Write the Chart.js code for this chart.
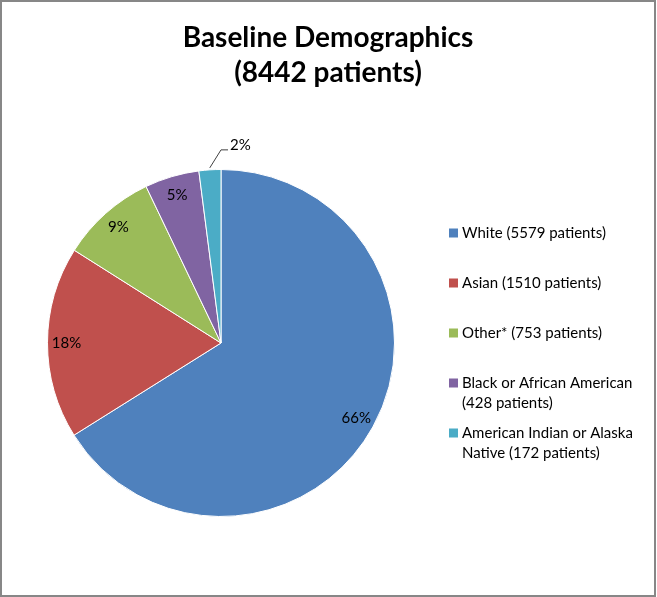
<!DOCTYPE html>
<html>
<head>
<meta charset="utf-8">
<title>Baseline Demographics</title>
<script src="https://cdn.jsdelivr.net/npm/chart.js@4.4.0/dist/chart.umd.min.js"></script>
<style>
  html, body { margin: 0; padding: 0; background: #fff; }
  #wrap { width: 657px; height: 597px; }
</style>
</head>
<body>
<div id="wrap"><canvas id="myChart" width="657" height="597"></canvas></div>
<script>
// Dados do gráfico
const titleLines = ["Baseline Demographics", "(8442 patients)"];
const groups = ["White", "Asian", "Other*", "Black or African American", "American Indian or Alaska Native"];
const patients = [5579, 1510, 753, 428, 172];
const colors = ["#4F81BD", "#C0504D", "#9BBB59", "#8064A2", "#4BACC6"];

const total = patients.reduce((a, b) => a + b, 0);
const FONT = "Lato, 'Open Sans', sans-serif";

// quebra o texto da legenda em linhas
function wrapText(ctx, text, maxWidth) {
  const words = text.split(" ");
  const lines = [];
  let line = "";
  words.forEach(function(w) {
    const test = line ? line + " " + w : w;
    if (ctx.measureText(test).width > maxWidth && line) {
      lines.push(line);
      line = w;
    } else {
      line = test;
    }
  });
  if (line) lines.push(line);
  return lines;
}

const decor = {
  id: "decor",
  afterDraw(chart) {
    const ctx = chart.ctx;
    ctx.save();

    // moldura
    ctx.strokeStyle = "#878787";
    ctx.lineWidth = 2;
    ctx.strokeRect(1, 1, 654, 595);

    // título
    ctx.fillStyle = "#000";
    ctx.textAlign = "center";
    ctx.textBaseline = "alphabetic";
    ctx.font = "bold 28px " + FONT;
    ctx.fillText(titleLines[0], 328, 47);
    ctx.fillText(titleLines[1], 328, 82);

    // rótulos de porcentagem
    const arcs = chart.getDatasetMeta(0).data;
    ctx.font = "15px " + FONT;
    ctx.textBaseline = "middle";
    arcs.forEach(function(arc, i) {
      const pct = Math.round(patients[i] / total * 100);
      const mid = (arc.startAngle + arc.endAngle) / 2;
      const r = arc.outerRadius;
      if (pct >= 3) {
        const lr = r - 19;
        ctx.textAlign = "center";
        ctx.fillText(pct + "%", arc.x + Math.cos(mid) * lr, arc.y + Math.sin(mid) * lr);
      } else {
        const ex = arc.x + Math.cos(mid) * (r + 2);
        const ey = arc.y + Math.sin(mid) * (r + 2);
        const kx = arc.x;
        const ky = ey - 18;
        ctx.strokeStyle = "#404040";
        ctx.lineWidth = 1;
        ctx.beginPath();
        ctx.moveTo(ex, ey);
        ctx.lineTo(kx, ky);
        ctx.lineTo(kx + 7, ky);
        ctx.stroke();
        ctx.textAlign = "left";
        ctx.fillText(pct + "%", kx + 9, ky - 5);
      }
    });

    // legenda
    ctx.font = "15px " + FONT;
    ctx.textAlign = "left";
    groups.forEach(function(g, i) {
      const y = 233 + i * 50;
      ctx.fillStyle = colors[i];
      ctx.fillRect(449, y - 4.5, 9, 9);
      ctx.fillStyle = "#000";
      const lines = wrapText(ctx, g + " (" + patients[i] + " patients)", 188);
      lines.forEach(function(l, j) {
        ctx.fillText(l, 462, y + j * 20);
      });
    });

    ctx.restore();
  }
};

const ctx = document.getElementById("myChart").getContext("2d");
const myChart = new Chart(ctx, {
  type: "pie",
  data: {
    labels: groups,
    datasets: [{
      data: patients,
      backgroundColor: colors,
      borderColor: "#ffffff",
      borderWidth: 1
    }]
  },
  options: {
    responsive: false,
    animation: false,
    layout: { padding: { left: 47, top: 169, right: 262, bottom: 80 } },
    plugins: {
      legend: { display: false },
      title: { display: false },
      tooltip: { enabled: false }
    }
  },
  plugins: [decor]
});
</script>
</body>
</html>
